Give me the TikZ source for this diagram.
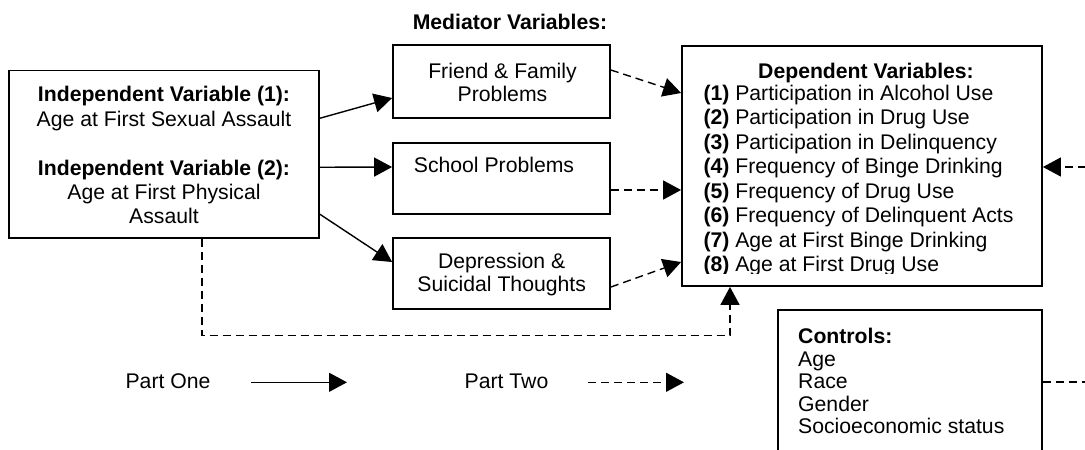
\documentclass[tikz,border=0pt]{standalone}
\usepackage{fontspec}
\setmainfont{Liberation Sans}
\usetikzlibrary{arrows.meta}
\begin{document}
\begin{tikzpicture}[x=1pt,y=-1pt,
  txt/.style={font=\fontsize{21.2pt}{24.3pt}\selectfont, inner sep=0pt, anchor=base},
  txtl/.style={txt, anchor=base west},
  box/.style={draw, line width=1.8pt, inner sep=0pt},
  solidarrow/.style={line width=1.4pt, -{Triangle[length=18pt,width=19pt]}},
  dasharrow/.style={solidarrow, dash pattern=on 8pt off 5pt}]
\useasboundingbox (0,0) rectangle (1085,450);
% boxes
\node[box, minimum width=310pt, minimum height=167.5pt] (indep) at (164,154.25) {};
\node[box, minimum width=217pt, minimum height=73pt] (friend) at (501.5,81.5) {};
\node[box, minimum width=217pt, minimum height=71pt] (school) at (501.5,178.5) {};
\node[box, minimum width=217pt, minimum height=71pt] (depr) at (501.5,273.5) {};
\node[box, minimum width=360pt, minimum height=240pt] (dep) at (862,166) {};
\node[box, minimum width=264pt, minimum height=160pt] (ctrl) at (910,390) {};
% texts
\node[txt] (med) at (510,29.3) {\textbf{Mediator Variables:}};
\node[txt] (i1) at (164,101.7) {\textbf{Independent Variable (1):}};
\node[txt] (i2) at (164,126) {Age at First Sexual Assault};
\node[txt] (i3) at (164,175) {\textbf{Independent Variable (2):}};
\node[txt] (i4) at (164,199.3) {Age at First Physical};
\node[txt] (i5) at (164,223.5) {Assault};
\node[txt] (f1) at (502.5,78.3) {Friend \& Family};
\node[txt] (f2) at (502.5,101) {Problems};
\node[txt] (s1) at (494,172.7) {School Problems};
\node[txt] (e1) at (501.7,268.3) {Depression \&};
\node[txt] (e2) at (501.7,291.7) {Suicidal Thoughts};
\node[txt] (dt) at (866,78) {\textbf{Dependent Variables:}};
\begin{scope}
\clip (690,40) rectangle (1040,273.5);
\foreach \n/\t [count=\i from 0] in {1/Participation in Alcohol Use,2/Participation in Drug Use,3/Participation in Delinquency,4/Frequency of Binge Drinking,5/Frequency of Drug Use,6/Frequency of Delinquent Acts,7/Age at First Binge Drinking,8/Age at First Drug Use}
  \node[txtl] (d\n) at (703.3,{100+24.5*\i}) {\textbf{(\n)} \t};
\end{scope}
\node[txtl] (c0) at (798,343.5) {\textbf{Controls:}};
\foreach \t [count=\i from 1] in {Age,Race,Gender,Socioeconomic status}
  \node[txtl] (c\i) at (798,{343.5+22.6*\i}) {\t};
\node[txt] (p1) at (168,388.3) {Part One};
\node[txt] (p2) at (506.5,388.3) {Part Two};
% connectors
\draw[solidarrow] ([yshift=36pt]indep.east) -- ([yshift=-16.5pt]friend.west);
\draw[solidarrow] ([yshift=-13pt]indep.east) -- ([yshift=11.5pt]school.west);
\draw[solidarrow] ([yshift=-60pt]indep.east) -- ([yshift=11.5pt]depr.west);
\draw[dasharrow] ([yshift=11.5pt]friend.east) -- ([yshift=73pt]dep.west);
\draw[dasharrow] ([yshift=-11.5pt]school.east) -- ([yshift=-24pt]dep.west);
\draw[dasharrow] ([yshift=-13.5pt]depr.east) -- ([yshift=-96pt]dep.west);
\draw[dasharrow] ([xshift=38pt]indep.south) -- ++(0,96.5) -| ([xshift=-132pt]dep.south);
\coordinate (r1) at (1100,382);
\coordinate (r2) at (1100,167);
\draw[dasharrow] ([yshift=8pt]ctrl.east) -- (r1) -- (r2) -- ([yshift=-1pt]dep.east);
% legend
\coordinate (l1a) at (251,382.3);
\coordinate (l1b) at (347,382.3);
\coordinate (l2a) at (588,382.3);
\coordinate (l2b) at (684,382.3);
\draw[solidarrow] (l1a) -- (l1b);
\draw[dasharrow] (l2a) -- (l2b);
\end{tikzpicture}
\end{document}
